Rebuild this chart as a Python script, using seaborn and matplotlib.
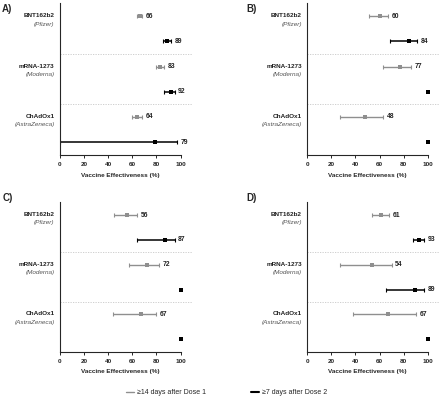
import matplotlib.pyplot as plt
import seaborn as sns
import numpy as np
import pandas as pd
from matplotlib.lines import Line2D

sns.set_style('ticks')
plt.rcParams['font.family'] = ['Liberation Sans', 'DejaVu Sans']

# DATA (point estimate, lower CI, upper CI); NaN = no CI shown
vaccines = ['BNT162b2', 'mRNA-1273', 'ChAdOx1']
makers = ['(Pfizer)', '(Moderna)', '(AstraZeneca)']
panels = ['A)', 'B)', 'C)', 'D)']

a_d1 = [66, 83, 64]
a_d1_lo = [64, 80, 60]
a_d1_hi = [68, 86, 68]
a_d2 = [89, 92, 79]
a_d2_lo = [85, 86, 0]
a_d2_hi = [92, 95, 97]

b_d1 = [60, 77, 48]
b_d1_lo = [51, 63, 27]
b_d1_hi = [67, 86, 63]
b_d2 = [84, 100, 100]
b_d2_lo = [69, np.nan, np.nan]
b_d2_hi = [91, np.nan, np.nan]

c_d1 = [56, 72, 67]
c_d1_lo = [45, 57, 44]
c_d1_hi = [64, 82, 80]
c_d2 = [87, 100, 100]
c_d2_lo = [64, np.nan, np.nan]
c_d2_hi = [95, np.nan, np.nan]

d_d1 = [61, 54, 67]
d_d1_lo = [54, 27, 38]
d_d1_hi = [68, 70, 90]
d_d2 = [93, 89, 100]
d_d2_lo = [88, 65, np.nan]
d_d2_hi = [97, 97, np.nan]

panel_data = [
    (a_d1, a_d1_lo, a_d1_hi, a_d2, a_d2_lo, a_d2_hi),
    (b_d1, b_d1_lo, b_d1_hi, b_d2, b_d2_lo, b_d2_hi),
    (c_d1, c_d1_lo, c_d1_hi, c_d2, c_d2_lo, c_d2_hi),
    (d_d1, d_d1_lo, d_d1_hi, d_d2, d_d2_lo, d_d2_hi),
]

GREY = '#8f8f8f'
BLACK = '#000000'
FS = 4.6

fig = plt.figure(figsize=(4.4, 4.01), dpi=100)
boxes = [
    [0.136, 0.613, 0.302, 0.379],
    [0.698, 0.613, 0.302, 0.379],
    [0.136, 0.122, 0.302, 0.374],
    [0.698, 0.122, 0.302, 0.374],
]
# panel letter positions (figure fraction)
letter_pos = [(0.005, 0.99), (0.561, 0.99), (0.005, 0.518), (0.561, 0.518)]

for box, label, lp, (d1, d1lo, d1hi, d2, d2lo, d2hi) in zip(boxes, panels, letter_pos, panel_data):
    ax = fig.add_axes(box)
    rows = []
    for i, v in enumerate(vaccines):
        rows.append({'vaccine': v, 'dose': 'Dose 1', 'y': 2 * i, 'est': d1[i], 'lo': d1lo[i], 'hi': d1hi[i]})
        rows.append({'vaccine': v, 'dose': 'Dose 2', 'y': 2 * i + 1, 'est': d2[i], 'lo': d2lo[i], 'hi': d2hi[i]})
    df = pd.DataFrame(rows)

    for dose, col, lw in [('Dose 1', GREY, 1.0), ('Dose 2', BLACK, 1.1)]:
        sub = df[df['dose'] == dose]
        ci = sub.dropna(subset=['lo'])
        ax.errorbar(ci['est'], ci['y'],
                    xerr=[ci['est'] - ci['lo'], ci['hi'] - ci['est']],
                    fmt='none', ecolor=col, elinewidth=lw, capsize=1.6, capthick=0.8)
        sns.scatterplot(data=sub, x='est', y='y', color=col, marker='s', s=8,
                        linewidth=0, ax=ax, legend=False, zorder=3)
        for _, r in ci.iterrows():
            ax.text(r['hi'] + 3, r['y'], f"{int(r['est'])}", fontsize=FS + 0.3,
                    fontweight='bold', va='center', ha='left', color='#222222')

    # group separators
    for ysep in [1.5, 3.5]:
        ax.axhline(ysep, color='#c8c8c8', lw=0.6, ls=(0, (1.5, 1.5)))

    # vaccine labels
    for i, (v, m) in enumerate(zip(vaccines, makers)):
        ax.text(-0.04, 2 * i - 0.02, v, transform=ax.get_yaxis_transform(),
                ha='right', va='center', fontsize=FS, fontweight='bold', color='#222222')
        ax.text(-0.04, 2 * i + 0.32, m, transform=ax.get_yaxis_transform(),
                ha='right', va='center', fontsize=FS, fontstyle='italic', color='#555555')

    ax.set_xlim(0, 110)
    ax.set_ylim(5.52, -0.52)
    ax.set_xticks([0, 20, 40, 60, 80, 100])
    ax.set_yticks([])
    ax.spines['bottom'].set_bounds(0, 100)
    ax.spines['top'].set_visible(False)
    ax.spines['right'].set_visible(False)
    for s in ['left', 'bottom']:
        ax.spines[s].set_linewidth(0.8)
    ax.tick_params(axis='x', labelsize=FS, length=2.5, width=0.7, pad=2.5)
    for t in ax.get_xticklabels():
        t.set_fontweight('bold')
    ax.set_xlabel('Vaccine Effectiveness (%)', fontsize=FS, fontweight='bold')
    ax.xaxis.set_label_coords(50 / 110, -0.115)
    ax.set_ylabel('')
    fig.text(lp[0], lp[1], label, fontsize=7, fontweight='bold', va='top', ha='left')

handles = [Line2D([0], [0], color=GREY, lw=1.0), Line2D([0], [0], color=BLACK, lw=1.5)]
fig.legend(handles, ['≥14 days after Dose 1', '≥7 days after Dose 2'],
           loc='center', bbox_to_anchor=(0.515, 0.02), ncol=2, frameon=False,
           fontsize=5, handlelength=1.2, handletextpad=0.4, columnspacing=6.5)

fig.savefig('out.png', dpi=100)
